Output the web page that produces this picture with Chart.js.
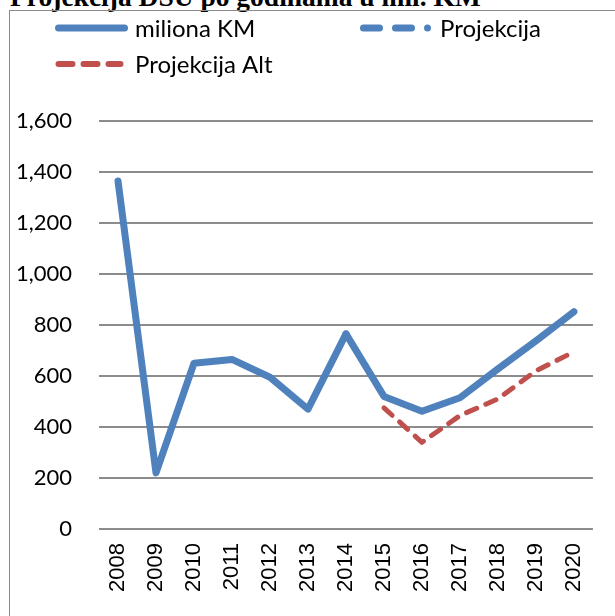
<!DOCTYPE html>
<html>
<head>
<meta charset="utf-8">
<script src="https://cdn.jsdelivr.net/npm/chart.js@4/dist/chart.umd.min.js"></script>
<style>
  html, body { margin: 0; padding: 0; background: #fff; }
  body { width: 615px; height: 616px; position: relative; overflow: hidden; }
  #title { position: absolute; left: 10px; top: -17px; font: bold 27.5px "Liberation Serif", "Times New Roman", serif; line-height: 27px; white-space: nowrap; color: #000; }
  #frame { position: absolute; left: 9px; top: 10px; width: 700px; height: 700px; border-left: 1.5px solid #8a8a8a; border-top: 1.5px solid #8a8a8a; }
  #c { position: absolute; left: 0; top: 0; }
</style>
</head>
<body>
<div id="title">Projekcija DSU po godinama u mil. KM</div>
<div id="frame"></div>
<canvas id="c" width="615" height="616"></canvas>
<script>
// ---- data ----
const years = ['2008','2009','2010','2011','2012','2013','2014','2015','2016','2017','2018','2019','2020'];
const milionaKM    = [1365, 220, 650, 665, 595, 470, 765, null, null, null, null, null, null];
const projekcija   = [null, null, null, null, null, null, 765, 520, 462, 515, 628, 738, 852];
const projekcijaAlt= [null, null, null, null, null, null, null, 475, 340, 445, 510, 620, 695];
const yMin = 0, yMax = 1600, yStep = 200;
const seriesLabels = ['miliona KM', 'Projekcija', 'Projekcija Alt'];

const BLUE = '#4F81BD', RED = '#C0504D';

// legend sample styles (as in reference legend)
const legendDash = [[], [16, 16, 16, 16, 0.01, 16], [14, 11]];
const legendWidth = [7, 7, 6];
const legendLen = [66, 65, 62];

const customLegend = {
  id: 'customLegend',
  afterDraw(chart) {
    const ctx = chart.ctx;
    const cols = [55, 360], rows = [28, 64];
    const pos = [[cols[0], rows[0]], [cols[1], rows[0]], [cols[0], rows[1]]];
    chart.data.datasets.forEach((ds, i) => {
      const [x, y] = pos[i];
      ctx.save();
      ctx.strokeStyle = ds.borderColor;
      ctx.lineWidth = legendWidth[i];
      ctx.lineCap = 'round';
      ctx.setLineDash(legendDash[i]);
      ctx.beginPath();
      ctx.moveTo(x + 3.5, y);
      ctx.lineTo(x + 3.5 + legendLen[i], y);
      ctx.stroke();
      ctx.setLineDash([]);
      ctx.fillStyle = '#000';
      ctx.font = '24px Lato';
      ctx.textBaseline = 'middle';
      ctx.textAlign = 'left';
      ctx.fillText(ds.label, x + 80, y + 1);
      ctx.restore();
    });
  }
};

new Chart(document.getElementById('c'), {
  type: 'line',
  data: {
    labels: years,
    datasets: [
      { label: seriesLabels[0], data: milionaKM, borderColor: BLUE, backgroundColor: BLUE, borderWidth: 7, pointRadius: 0, tension: 0, borderCapStyle: 'round', borderJoinStyle: 'round', order: 1 },
      { label: seriesLabels[1], data: projekcija, borderColor: BLUE, backgroundColor: BLUE, borderWidth: 7, pointRadius: 0, tension: 0, borderCapStyle: 'round', borderJoinStyle: 'round', order: 1 },
      { label: seriesLabels[2], data: projekcijaAlt, borderColor: RED, backgroundColor: RED, borderWidth: 5, borderDash: [11, 10], pointRadius: 0, tension: 0, borderCapStyle: 'round', borderJoinStyle: 'round', order: 2 }
    ]
  },
  options: {
    responsive: false,
    animation: false,
    devicePixelRatio: 1,
    layout: { padding: { top: 121, right: 17, left: 0, bottom: 0 } },
    plugins: { legend: { display: false }, tooltip: { enabled: false }, title: { display: false } },
    scales: {
      x: {
        offset: true,
        grid: { display: false, drawTicks: false },
        border: { display: false },
        ticks: { minRotation: 90, maxRotation: 90, padding: 14, color: '#000', font: { family: 'Liberation Sans', size: 22 }, autoSkip: false },
        afterFit(scale) { scale.height = 87; }
      },
      y: {
        min: yMin, max: yMax,
        ticks: { stepSize: yStep, padding: 27, color: '#000', font: { family: 'Lato', size: 22 }, callback: v => v.toLocaleString('en-US') },
        grid: { color: '#8c8c8c', lineWidth: 2, drawTicks: false },
        border: { display: false },
        afterFit(scale) { scale.width = 99; }
      }
    }
  },
  plugins: [customLegend]
});
</script>
</body>
</html>
